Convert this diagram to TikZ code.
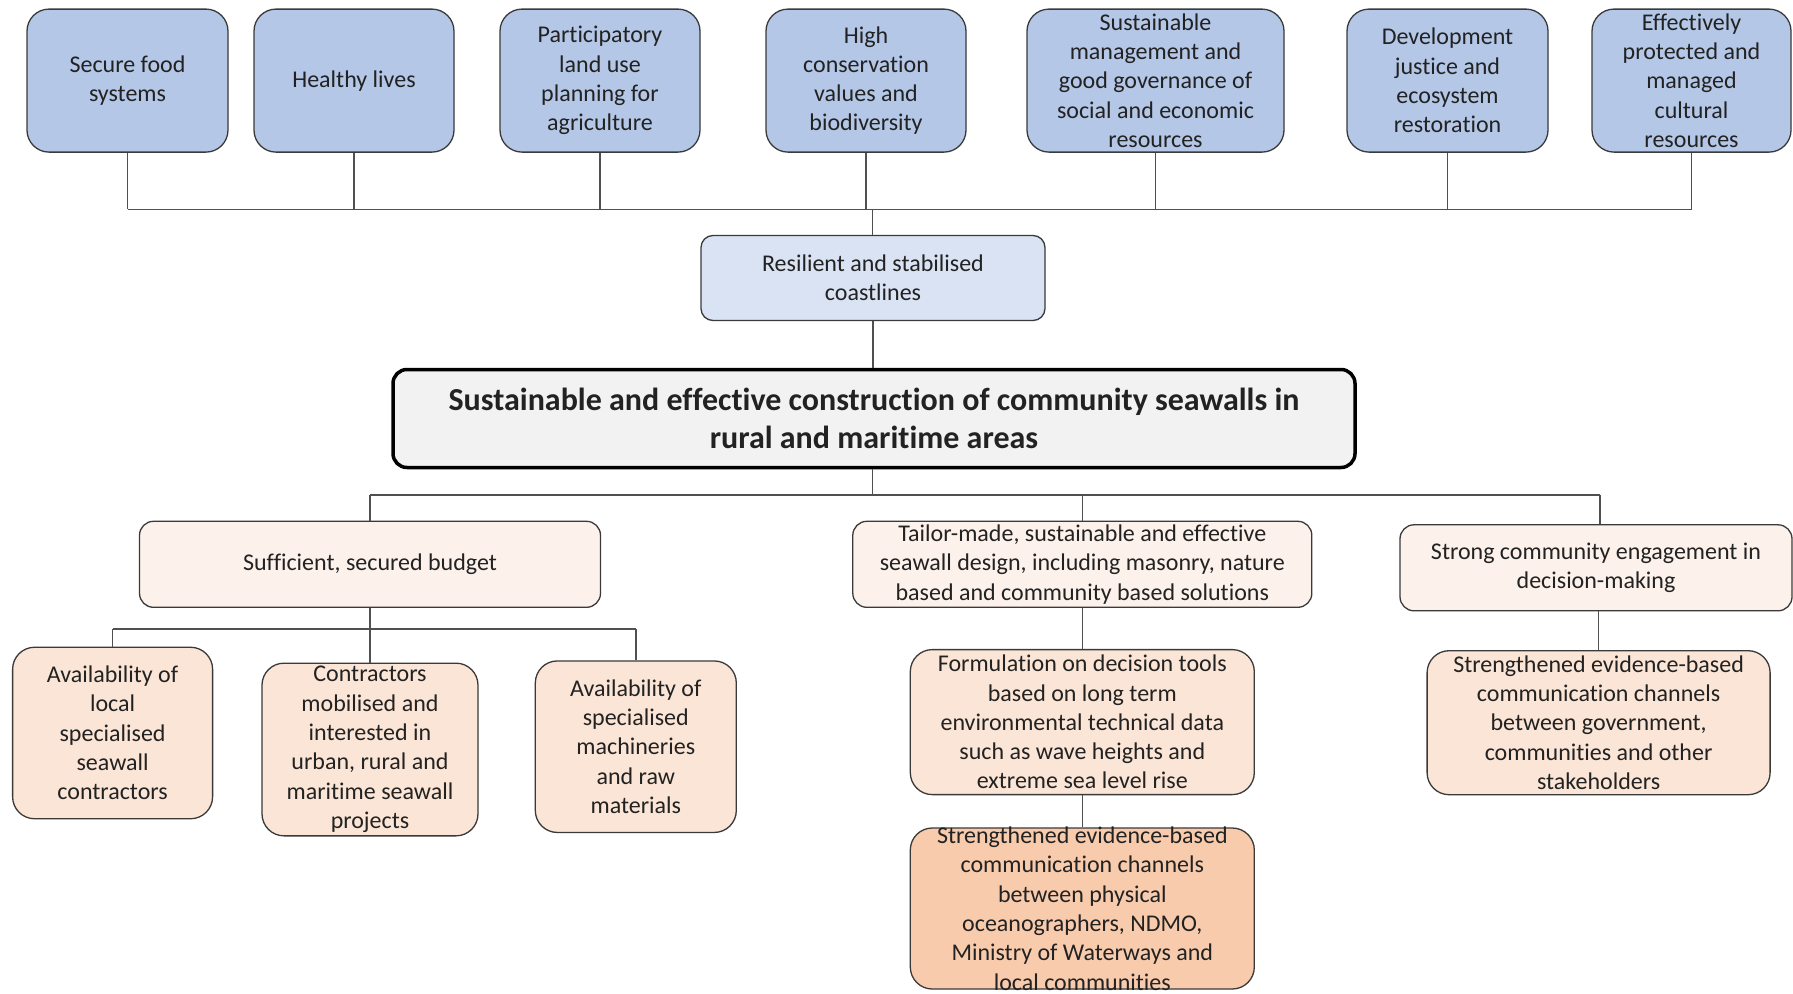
\documentclass[tikz,border=0pt]{standalone}
\usepackage{fontspec}
\setmainfont{Carlito}[Ligatures=NoCommon]
\definecolor{goalblue}{HTML}{B4C7E7}
\definecolor{resblue}{HTML}{DAE3F3}
\definecolor{coregray}{HTML}{F2F2F2}
\definecolor{midpeach}{HTML}{FCF1EB}
\definecolor{subpeach}{HTML}{FBE5D6}
\definecolor{deeppeach}{HTML}{F8CBAD}
\definecolor{edge}{HTML}{3A3A3A}
\definecolor{linkgray}{HTML}{505050}
\definecolor{ink}{HTML}{222222}
\newcommand\boxfont{\fontsize{24}{29.3}\selectfont}
\newcommand\corefont{\fontsize{32}{37.7}\selectfont\bfseries}
% fixed-size text block: width, height, centred lines
\newcommand\bx[3]{\parbox[c][#2pt][c]{#1pt}{\centering #3\par}}
\begin{document}
\begin{tikzpicture}[x=1pt,y=-1pt,
  box/.style={draw=edge, line width=1.3pt, inner sep=0pt, text=ink, font=\boxfont},
  goal/.style={box, fill=goalblue, rounded corners=22pt},
  outcome/.style={box, fill=resblue, rounded corners=12pt},
  core/.style={box, draw=black, line width=3.5pt, fill=coregray, rounded corners=14pt, font=\corefont},
  pillar/.style={box, fill=midpeach, rounded corners=14pt},
  input/.style={box, fill=subpeach, rounded corners=22pt},
  keyinput/.style={box, fill=deeppeach, rounded corners=22pt},
  link/.style={draw=linkgray, line width=1.5pt}
]
\fill[white] (0,0) rectangle (1793,993);
\useasboundingbox (0,0) rectangle (1793,993);

% long-term goals
\node[goal] (t1) at (127.5,80.6) {\bx{201}{143}{Secure food\\systems}};
\node[goal] (t2) at (354,80.6) {\bx{200}{143}{Healthy lives}};
\node[goal] (t3) at (600,80.6) {\bx{200}{143}{Participatory\\land use\\planning for\\agriculture}};
\node[goal] (t4) at (866,80.6) {\bx{200}{143}{High\\conservation\\values and\\biodiversity}};
\node[goal] (t5) at (1155.5,80.6) {\bx{257}{143}{Sustainable\\management and\\good governance of\\social and economic\\resources}};
\node[goal] (t6) at (1447.5,80.6) {\bx{201}{143}{Development\\justice and\\ecosystem\\restoration}};
\node[goal] (t7) at (1691.5,80.6) {\bx{199}{143}{Effectively\\protected and\\managed\\cultural\\resources}};

% outcome and core objective
\node[outcome] (res) at (873,278) {\bx{344}{85}{Resilient and stabilised\\coastlines}};
\node[core] (core) at (874,418.5) {\bx{962}{98}{Sustainable and effective construction of community seawalls in\\rural and maritime areas}};

% pillars
\node[pillar] (budget) at (370,564.3) {\bx{461}{86}{Sufficient, secured budget}};
\node[pillar] (design) at (1082.3,564.3) {\bx{459}{86}{Tailor-made, sustainable and effective\\seawall design, including masonry, nature\\based and community based solutions}};
\node[pillar] (engage) at (1596,567.8) {\bx{392}{86}{Strong community engagement in\\decision-making}};

% inputs
\node[input] (local) at (112.6,733) {\bx{200}{171.5}{Availability of\\local\\specialised\\seawall\\contractors}};
\node[input] (contr) at (370,749.5) {\bx{216}{172.7}{Contractors\\mobilised and\\interested in\\urban, rural and\\maritime seawall\\projects}};
\node[input] (machine) at (635.8,746.7) {\bx{201}{171.5}{Availability of\\specialised\\machineries\\and raw\\materials}};
\node[input] (tools) at (1082.3,722.1) {\bx{344}{145}{Formulation on decision tools\\based on long term\\environmental technical data\\such as wave heights and\\extreme sea level rise}};
\node[keyinput] (ocean) at (1082.3,908.5) {\bx{344}{161}{Strengthened evidence-based\\communication channels\\between physical\\oceanographers, NDMO,\\Ministry of Waterways and\\local communities}};
\node[input] (gov) at (1598.6,722.7) {\bx{343}{144}{Strengthened evidence-based\\communication channels\\between government,\\communities and other\\stakeholders}};

% upper bus: goals to outcome
\coordinate (busT) at (872.5,209.3);
\draw[link] (t1.south |- busT) -- (t7.south |- busT);
\foreach \g in {t1,t2,t3,t4,t5,t6,t7}
  \draw[link] (\g.south) -- (\g.south |- busT);
\draw[link] (busT) -- (busT |- res.north);
\draw[link] (res.south) -- (res.south |- core.north);

% lower bus: core to pillars
\coordinate (busM) at (872.5,495);
\coordinate (engTop) at (1600,495);
\draw[link] (busM |- core.south) -- (busM);
\draw[link] (budget.north |- busM) -- (engTop);
\draw[link] (budget.north |- busM) -- (budget.north);
\draw[link] (design.north |- busM) -- (design.north);
\draw[link] (engTop) -- (engTop |- engage.north);

% budget inputs
\coordinate (busB) at (370,628.9);
\draw[link] (budget.south) -- (contr.north);
\draw[link] (local.north |- busB) -- (machine.north |- busB);
\draw[link] (local.north |- busB) -- (local.north);
\draw[link] (machine.north |- busB) -- (machine.north);

% design inputs
\draw[link] (design.south) -- (tools.north);
\draw[link] (tools.south) -- (ocean.north);

% engagement input
\draw[link] (gov.north |- engage.south) -- (gov.north);
\end{tikzpicture}
\end{document}
